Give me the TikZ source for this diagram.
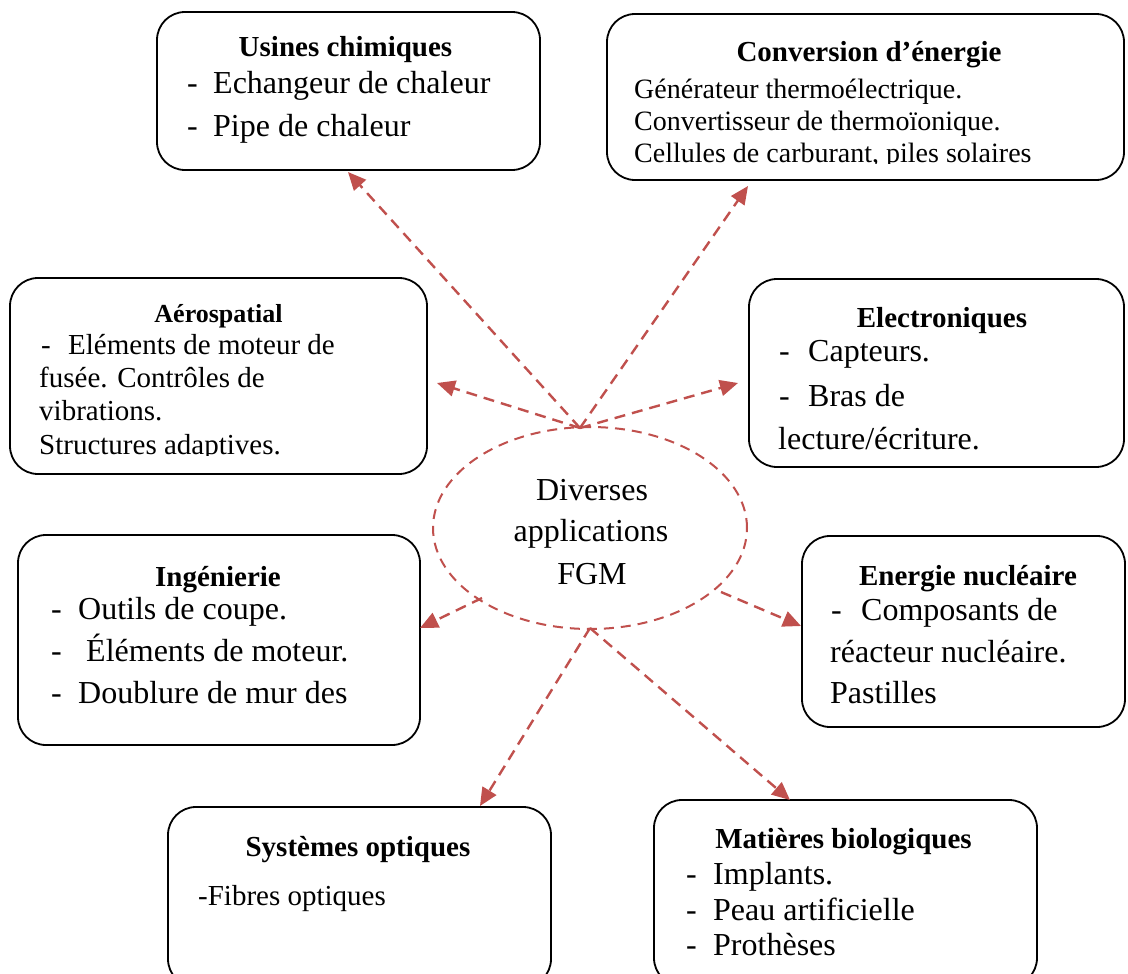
\documentclass[tikz,border=0pt]{standalone}
\usepackage{fontspec}
\setmainfont{Liberation Serif}
\usetikzlibrary{arrows.meta,shapes.geometric}
\definecolor{fgmred}{HTML}{C0504D}
\tikzset{
  box/.style={draw=black, line width=1.8pt, rounded corners=28pt, inner sep=0pt, fill=none},
  ttl/.style={anchor=base, inner sep=0pt, font=\fontsize{29}{34}\selectfont\bfseries},
  bd/.style={anchor=base west, inner sep=0pt, font=\fontsize{32}{38}\selectfont},
  bdsmall/.style={anchor=base west, inner sep=0pt, font=\fontsize{28}{33}\selectfont},
  bdmid/.style={anchor=base west, inner sep=0pt, font=\fontsize{29}{34}\selectfont},
  hubtxt/.style={anchor=base, inner sep=0pt, font=\fontsize{32}{38}\selectfont},
  hub/.style={draw=fgmred, line width=2pt, dash pattern=on 10pt off 7pt, ellipse, inner sep=0pt},
  link/.style={draw=fgmred, line width=2.4pt, dash pattern=on 11pt off 7pt,
    -{Triangle[length=18pt,width=16pt]}},
}
\begin{document}
\begin{tikzpicture}[x=1pt,y=-1pt]
\useasboundingbox (0,0) rectangle (1128,974);

% central ellipse
\node[hub, minimum width=314pt, minimum height=202pt] (fgm) at (590,528) {};
\node[hubtxt] (fgm1) at (592,500) {Diverses};
\node[hubtxt] (fgm2) at (591,541) {applications};
\node[hubtxt] (fgm3) at (592,584) {FGM};

% boxes
\node[box, minimum width=517pt, minimum height=166pt] (conv) at (865.5,97) {};
\node[box, minimum width=383pt, minimum height=158pt] (usines) at (348.5,91) {};
\node[box, minimum width=417pt, minimum height=196pt] (aero) at (218.5,376) {};
\node[box, minimum width=375pt, minimum height=188pt] (elec) at (936.5,373) {};
\node[box, minimum width=402pt, minimum height=210pt] (ing) at (219,640) {};
\node[box, minimum width=323pt, minimum height=191pt] (nucl) at (963.5,631.5) {};
\node[box, minimum width=383pt, minimum height=180pt] (optic) at (359.5,897) {};
\node[box, minimum width=383pt, minimum height=186pt] (bio) at (845.5,893) {};

% Usines chimiques
\node[ttl] (u0) at (345.5,57) {Usines chimiques};
\node[bd] (u1a) at (187,94) {-};
\node[bd] (u1) at (213,94) {Echangeur de chaleur};
\node[bd] (u2a) at (187,136) {-};
\node[bd] (u2) at (213,136) {Pipe de chaleur};

% Conversion d'energie
\node[ttl] (c0) at (869,62) {Conversion d’énergie};
\begin{scope}
\clip (607,14) rectangle (1127,163);
\node[bdsmall] (c1) at (634,99) {Générateur thermoélectrique.};
\node[bdsmall] (c2) at (634,131) {Convertisseur de thermoïonique.};
\node[bdsmall] (c3) at (634,162.5) {Cellules de carburant, piles solaires};
\end{scope}

% Aerospatial
\node[ttl, font=\fontsize{26}{31}\selectfont\bfseries] (a0) at (218.5,322) {Aérospatial};
\begin{scope}
\clip (10,278) rectangle (427,455.5);
\node[bdmid] (a1a) at (41,354) {-};
\node[bdmid] (a1) at (68,354) {Eléments de moteur de};
\node[bdmid] (a2) at (39,387) {fusée. Contrôles de};
\node[bdmid] (a3) at (39,420) {vibrations.};
\node[bdmid] (a4) at (39,454) {Structures adaptives.};
\end{scope}

% Electroniques
\node[ttl] (e0) at (942,327) {Electroniques};
\node[bd] (e1a) at (779,361) {-};
\node[bd] (e1) at (808,361) {Capteurs.};
\node[bd] (e2a) at (779,406) {-};
\node[bd] (e2) at (808,406) {Bras de};
\node[bd] (e3) at (778,449) {lecture/écriture.};

% Ingenierie
\node[ttl] (i0) at (218,586) {Ingénierie};
\node[bd] (i1a) at (51,619) {-};
\node[bd] (i1) at (78,619) {Outils de coupe.};
\node[bd] (i2a) at (51,661) {-};
\node[bd] (i2) at (86,661) {Éléments de moteur.};
\node[bd] (i3a) at (51,703) {-};
\node[bd] (i3) at (78,703) {Doublure de mur des};

% Energie nucleaire
\node[ttl] (n0) at (968,585) {Energie nucléaire};
\node[bd] (n1a) at (831,620) {-};
\node[bd] (n1) at (861,620) {Composants de};
\node[bd] (n2) at (830,662) {réacteur nucléaire.};
\node[bd] (n3) at (830,703) {Pastilles};

% Systemes optiques
\node[ttl] (o0) at (358,856) {Systèmes optiques};
\node[bdmid] (o1) at (198,905) {-Fibres optiques};

% Matieres biologiques
\node[ttl] (b0) at (843.5,848) {Matières biologiques};
\node[bd] (b1a) at (686,884) {-};
\node[bd] (b1) at (713,884) {Implants.};
\node[bd] (b2a) at (686,920) {-};
\node[bd] (b2) at (713,920) {Peau artificielle};
\node[bd] (b3a) at (686,955) {-};
\node[bd] (b3) at (713,955) {Prothèses};

% connector end points
\coordinate (hubtop) at (580,428);
\coordinate (hubbot) at (590,628);
\coordinate (hubleft) at (482,598);
\coordinate (hubright) at (721,592);
\coordinate (tU) at (348,172);
\coordinate (tC) at (748,186);
\coordinate (tA) at (437,383);
\coordinate (tE) at (738,383);
\coordinate (tI) at (420,628);
\coordinate (tN) at (801,626);
\coordinate (tO) at (480,806);
\coordinate (tB) at (790,800);

\draw[link] (hubtop) -- (tU);
\draw[link] (hubtop) -- (tC);
\draw[link] (hubtop) -- (tA);
\draw[link] (hubtop) -- (tE);
\draw[link] (hubleft) -- (tI);
\draw[link] (hubright) -- (tN);
\draw[link] (hubbot) -- (tO);
\draw[link] (hubbot) -- (tB);
\end{tikzpicture}
\end{document}
